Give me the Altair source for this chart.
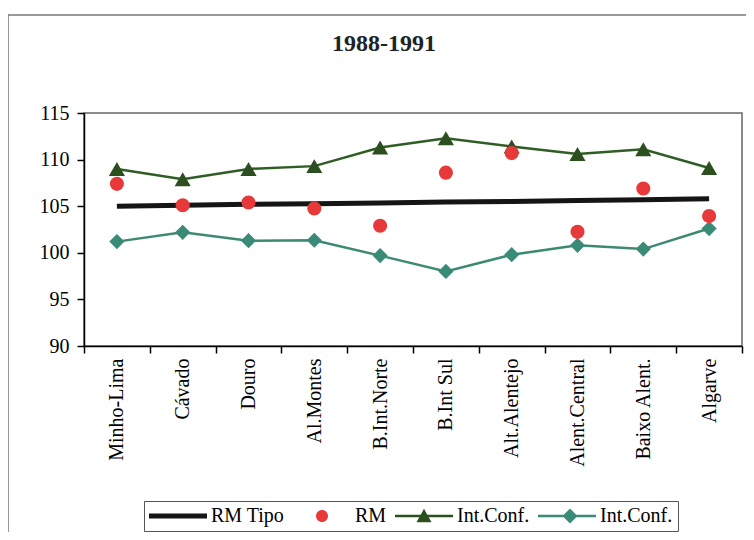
import altair as alt
import pandas as pd

# ---- data ----
regions = ["Minho-Lima", "Cávado", "Douro", "Al.Montes", "B.Int.Norte",
           "B.Int Sul", "Alt.Alentejo", "Alent.Central", "Baixo Alent.", "Algarve"]
rm_tipo = [105.0, 105.1, 105.2, 105.25, 105.35, 105.45, 105.5, 105.6, 105.7, 105.8]
rm = [107.4, 105.1, 105.4, 104.75, 102.9, 108.6, 110.7, 102.25, 106.9, 103.95]
ic_sup = [109.0, 107.9, 109.0, 109.3, 111.3, 112.3, 111.4, 110.6, 111.1, 109.1]
ic_inf = [101.2, 102.2, 101.3, 101.35, 99.7, 98.0, 99.8, 100.8, 100.4, 102.6]
y_ticks = [90, 95, 100, 105, 110, 115]
legend_keys = ["tipo", "rm", "sup", "inf"]
legend_labels = ["RM Tipo", "RM", "Int.Conf.", "Int.Conf."]
title_text = "1988-1991"

# ---- styles ----
FONT = "Liberation Serif"
C_TIPO = "#151515"
C_RM = "#e8393a"
C_SUP_LINE = "#2f5d24"
C_SUP_PT = "#2b4f1e"
C_INF_LINE = "#3d8a72"
C_INF_PT = "#3a8a78"
W, H = 658, 233
PAD = {"left": 76, "top": 105, "right": 4, "bottom": 186}

df = pd.DataFrame({"region": regions, "rm_tipo": rm_tipo, "rm": rm,
                   "ic_sup": ic_sup, "ic_inf": ic_inf})

x_enc = alt.X("region:N", sort=regions,
              scale=alt.Scale(type="band", paddingInner=0, paddingOuter=0),
              axis=alt.Axis(title=None, labelAngle=270, labelAlign="right",
                            labelBaseline="middle", tickBand="extent",
                            tickSize=7, labelPadding=5,
                            labelFont=FONT, labelFontSize=20, labelColor="black"))


def y_enc(field):
    return alt.Y(f"{field}:Q",
                 scale=alt.Scale(domain=[90, 115], nice=False, zero=False),
                 axis=alt.Axis(title=None, values=y_ticks, grid=False,
                               tickSize=7, labelPadding=8,
                               labelFont=FONT, labelFontSize=20, labelColor="black"))


base = alt.Chart(df).encode(x=x_enc)

tipo = base.mark_line(color=C_TIPO, strokeWidth=5).encode(y=y_enc("rm_tipo"))
sup_line = base.mark_line(color=C_SUP_LINE, strokeWidth=2.5).encode(y=y_enc("ic_sup"))
sup_pts = base.mark_point(shape="triangle-up", filled=True, size=260,
                          color=C_SUP_PT, opacity=1).encode(y=y_enc("ic_sup"))
inf_line = base.mark_line(color=C_INF_LINE, strokeWidth=2.5).encode(y=y_enc("ic_inf"))
inf_pts = base.mark_point(shape="diamond", filled=True, size=230,
                          color=C_INF_PT, opacity=1).encode(y=y_enc("ic_inf"))
rm_pts = base.mark_circle(size=200, color=C_RM, opacity=1).encode(y=y_enc("rm"))

# ---- legend (from scales with explicit domain; no marks drawn) ----
legend_paths = [
    "M-1,-0.25H4.8V0.25H-1Z",
    "M2.5,0A0.6,0.6,0,1,1,1.3,0A0.6,0.6,0,1,1,2.5,0Z",
    "M-1,-0.13H4.8V0.13H-1Z M1.9,-0.72L2.65,0.62L1.15,0.62Z",
    "M-1,-0.13H4.8V0.13H-1Z M2.2,-0.75L2.95,0L2.2,0.75L1.45,0Z",
]
legend_colors = [C_TIPO, C_RM, C_SUP_PT, C_INF_PT]
label_map = "{" + ",".join(f"'{k}':'{v}'" for k, v in zip(legend_keys, legend_labels)) + "}"
leg = alt.Legend(title=None, orient="none", legendX=60, legendY=388,
                 direction="horizontal", columns=4,
                 labelExpr=f"{label_map}[datum.label]",
                 labelFont=FONT, labelFontSize=20, labelColor="black",
                 symbolSize=400, symbolStrokeWidth=0, symbolOpacity=1,
                 labelOffset=42, columnPadding=8,
                 strokeColor="#555", padding=5)
legend_layer = alt.Chart(pd.DataFrame({"key": legend_keys})).transform_filter(
    "false").mark_point(filled=True, opacity=1).encode(
    color=alt.Color("key:N", scale=alt.Scale(domain=legend_keys, range=legend_colors), legend=leg),
    shape=alt.Shape("key:N", scale=alt.Scale(domain=legend_keys, range=legend_paths), legend=leg),
)

# ---- outer frame decoration ----
frame_df = pd.DataFrame({"k": [0]})
frame_left = alt.Chart(frame_df).mark_rule(color="#777", strokeWidth=1.5).encode(
    x=alt.value(-PAD["left"]), y=alt.value(-98), y2=alt.value(H + PAD["bottom"]))
frame_top = alt.Chart(frame_df).mark_rule(color="#777", strokeWidth=1.5).encode(
    x=alt.value(-PAD["left"]), x2=alt.value(W + PAD["right"]), y=alt.value(-98))

chart = alt.layer(
    frame_left, frame_top, tipo, sup_line, inf_line, sup_pts, inf_pts, rm_pts, legend_layer
).properties(
    width=W, height=H,
    autosize=alt.AutoSizeParams(type="none"),
    padding=PAD,
    background="white",
    title=alt.TitleParams(title_text, font=FONT, fontSize=24, fontWeight="bold",
                          color="#222", anchor="middle", dx=-29, offset=-61,
                          baseline="alphabetic"),
).configure_view(
    stroke="#666", strokeWidth=1.5
).configure_axis(
    labelFont=FONT, labelFontSize=20, labelColor="black",
    domainColor="black", tickColor="black", domainWidth=1.5, tickWidth=1.5
)

chart.save("out.html", embed_options={"renderer": "svg", "actions": False})
